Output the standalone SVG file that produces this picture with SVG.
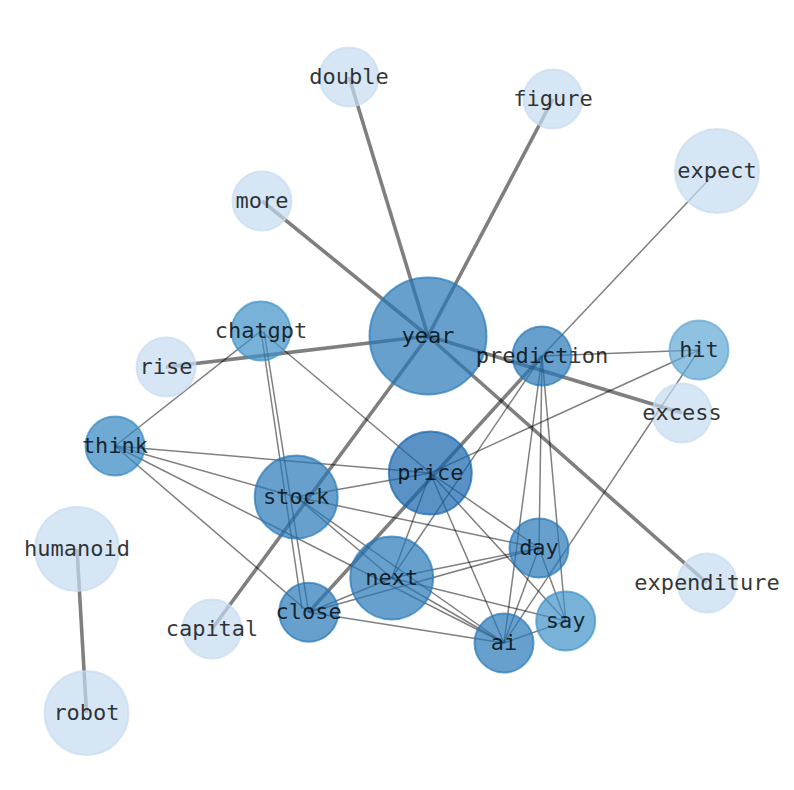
<svg xmlns="http://www.w3.org/2000/svg" width="794" height="790" viewBox="0 0 794 790">
<style>
.e{stroke:#000;stroke-opacity:0.5;fill:none;stroke-linecap:butt}
.t{stroke-width:3.6}
.n{stroke-width:1.5}
circle{fill-opacity:0.7;stroke-opacity:0.7;stroke-width:2}
text{font-family:"DejaVu Sans Mono","Liberation Mono",monospace;font-size:22px;fill:#000;fill-opacity:0.8;text-anchor:middle}
.c1{fill:#c6dbef;stroke:#c6dbef}
.c2{fill:#60a7d3;stroke:#60a7d3}
.c3{fill:#3f91c8;stroke:#3f91c8}
.c4{fill:#3186c2;stroke:#3186c2}
.c5{fill:#2778b8;stroke:#2778b8}
.c6{fill:#1564ad;stroke:#1564ad}
</style>
<rect width="794" height="790" fill="#fff"/>
<g id="edges">
<line class="e t" x1="428" y1="336" x2="349" y2="77"/>
<line class="e t" x1="428" y1="336" x2="553" y2="99"/>
<line class="e t" x1="428" y1="336" x2="262" y2="201"/>
<line class="e t" x1="428" y1="336" x2="166" y2="367"/>
<line class="e t" x1="428" y1="336" x2="682" y2="413"/>
<line class="e t" x1="428" y1="336" x2="707" y2="583"/>
<line class="e t" x1="428" y1="336" x2="212" y2="629"/>
<line class="e t" x1="542" y1="356" x2="308.7" y2="612.3"/>
<line class="e t" x1="77" y1="549" x2="86.5" y2="713"/>
<line class="e n" x1="717" y1="171" x2="542" y2="356"/>
<line class="e n" x1="542" y1="356" x2="699" y2="350"/>
<line class="e n" x1="542" y1="356" x2="391.7" y2="578"/>
<line class="e n" x1="542" y1="356" x2="539" y2="548"/>
<line class="e n" x1="542" y1="356" x2="565.7" y2="621"/>
<line class="e n" x1="542" y1="356" x2="504" y2="643"/>
<line class="e n" x1="699" y1="350" x2="430.3" y2="473"/>
<line class="e n" x1="699" y1="350" x2="504" y2="643"/>
<line class="e n" x1="261" y1="331" x2="115" y2="446"/>
<line class="e n" x1="264" y1="331" x2="308.7" y2="612.3"/>
<line class="e n" x1="261" y1="331" x2="302" y2="609"/>
<line class="e n" x1="261" y1="331" x2="430.3" y2="473"/>
<line class="e n" x1="115" y1="446" x2="430.3" y2="473"/>
<line class="e n" x1="115" y1="446" x2="296.2" y2="497"/>
<line class="e n" x1="115" y1="446" x2="504" y2="643"/>
<line class="e n" x1="115" y1="446" x2="308.7" y2="612.3"/>
<line class="e n" x1="296.2" y1="497" x2="430.3" y2="473"/>
<line class="e n" x1="296.2" y1="497" x2="539" y2="548"/>
<line class="e n" x1="296.2" y1="497" x2="391.7" y2="578"/>
<line class="e n" x1="296.2" y1="497" x2="504" y2="643"/>
<line class="e n" x1="430.3" y1="473" x2="391.7" y2="578"/>
<line class="e n" x1="430.3" y1="473" x2="539" y2="548"/>
<line class="e n" x1="430.3" y1="473" x2="565.7" y2="621"/>
<line class="e n" x1="430.3" y1="473" x2="504" y2="643"/>
<line class="e n" x1="391.7" y1="578" x2="308.7" y2="612.3"/>
<line class="e n" x1="391.7" y1="578" x2="539" y2="548"/>
<line class="e n" x1="391.7" y1="578" x2="504" y2="643"/>
<line class="e n" x1="391.7" y1="578" x2="565.7" y2="621"/>
<line class="e n" x1="308.7" y1="612.3" x2="539" y2="548"/>
<line class="e n" x1="308.7" y1="612.3" x2="504" y2="643"/>
<line class="e n" x1="539" y1="548" x2="504" y2="643"/>
<line class="e n" x1="539" y1="548" x2="565.7" y2="621"/>
<line class="e n" x1="565.7" y1="621" x2="504" y2="643"/>
</g>
<g id="node-double"><circle class="c1" cx="349" cy="77" r="29.5"/><text x="349" y="84">double</text></g>
<g id="node-figure"><circle class="c1" cx="553" cy="99" r="29.5"/><text x="553" y="106">figure</text></g>
<g id="node-expect"><circle class="c1" cx="717" cy="171" r="42"/><text x="717" y="178">expect</text></g>
<g id="node-more"><circle class="c1" cx="262" cy="201" r="29.5"/><text x="262" y="208">more</text></g>
<g id="node-year"><circle class="c5" cx="428" cy="336" r="58.5"/><text x="428" y="343">year</text></g>
<g id="node-chatgpt"><circle class="c3" cx="261" cy="331" r="29.5"/><text x="261" y="338">chatgpt</text></g>
<g id="node-rise"><circle class="c1" cx="166" cy="367" r="29.5"/><text x="166" y="374">rise</text></g>
<g id="node-prediction"><circle class="c5" cx="542" cy="356" r="29.5"/><text x="542" y="363">prediction</text></g>
<g id="node-hit"><circle class="c2" cx="699" cy="350" r="29.5"/><text x="699" y="357">hit</text></g>
<g id="node-excess"><circle class="c1" cx="682" cy="413" r="29.5"/><text x="682" y="420">excess</text></g>
<g id="node-think"><circle class="c4" cx="115" cy="446" r="29.5"/><text x="115" y="453">think</text></g>
<g id="node-price"><circle class="c6" cx="430.3" cy="473" r="41.5"/><text x="430.3" y="480">price</text></g>
<g id="node-stock"><circle class="c5" cx="296.2" cy="497" r="41.5"/><text x="296.2" y="504">stock</text></g>
<g id="node-humanoid"><circle class="c1" cx="77" cy="549" r="42"/><text x="77" y="556">humanoid</text></g>
<g id="node-day"><circle class="c5" cx="539" cy="548" r="29.5"/><text x="539" y="555">day</text></g>
<g id="node-expenditure"><circle class="c1" cx="707" cy="583" r="29.5"/><text x="707" y="590">expenditure</text></g>
<g id="node-next"><circle class="c5" cx="391.7" cy="578" r="41.5"/><text x="391.7" y="585">next</text></g>
<g id="node-capital"><circle class="c1" cx="212" cy="629" r="29.5"/><text x="212" y="636">capital</text></g>
<g id="node-close"><circle class="c5" cx="308.7" cy="612.3" r="29.5"/><text x="308.7" y="619">close</text></g>
<g id="node-say"><circle class="c3" cx="565.7" cy="621" r="29.5"/><text x="565.7" y="628">say</text></g>
<g id="node-ai"><circle class="c5" cx="504" cy="643" r="29.5"/><text x="504" y="650">ai</text></g>
<g id="node-robot"><circle class="c1" cx="86.5" cy="713" r="42"/><text x="86.5" y="720">robot</text></g>
</svg>
